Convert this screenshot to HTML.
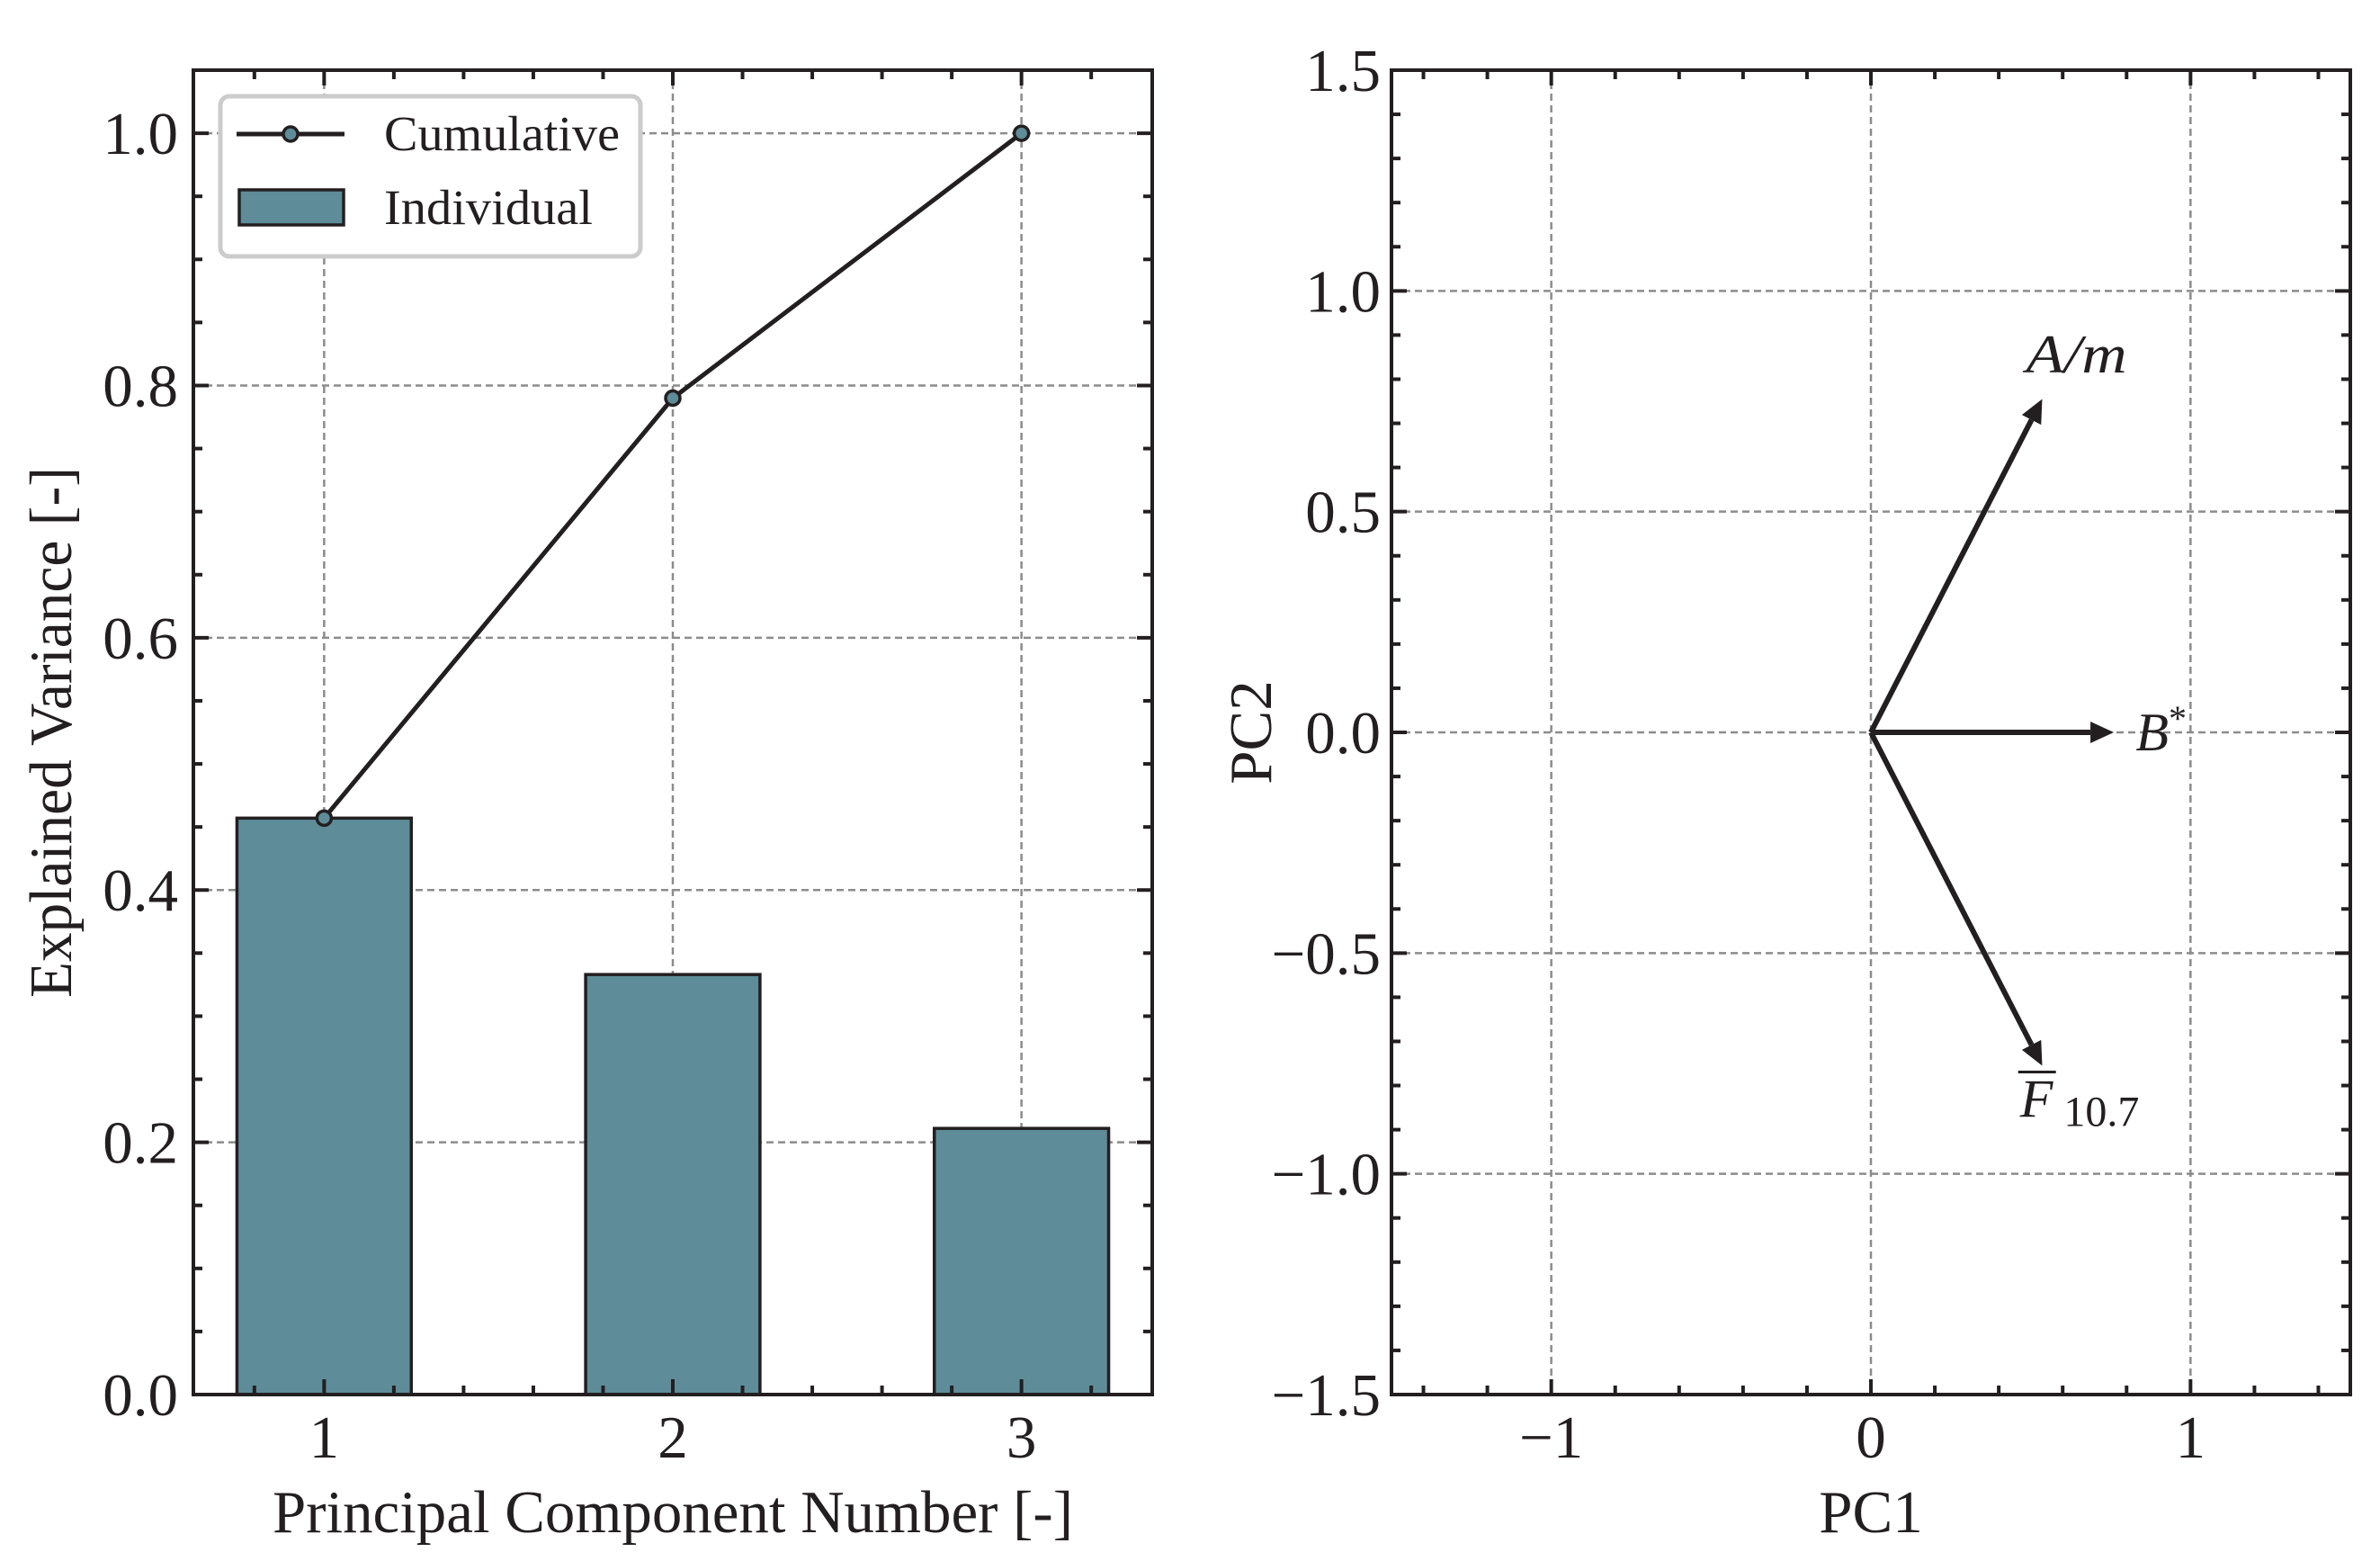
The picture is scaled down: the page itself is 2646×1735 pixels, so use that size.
<!DOCTYPE html>
<html><head><meta charset="utf-8"><style>
html,body{margin:0;padding:0;background:#fff}
svg{display:block}
text{font-family:"Liberation Serif",serif;fill:#231f20}
</style></head><body>
<svg id="fig" width="2646" height="1735" viewBox="0 0 2646 1735" xmlns="http://www.w3.org/2000/svg"></svg>
<script>
const components = [1, 2, 3];
const individualVariance = [0.457, 0.333, 0.211];
const cumulativeVariance = [0.457, 0.790, 1.0];
const leftYTicks = [0.0, 0.2, 0.4, 0.6, 0.8, 1.0];
const leftYTickLabels = ["0.0", "0.2", "0.4", "0.6", "0.8", "1.0"];
const loadingNames = ["A/m", "B*", "F10.7"];
const loadingPC1 = [0.536, 0.76, 0.536];
const loadingPC2 = [0.755, 0.0, -0.755];
const rightXTicks = [-1, 0, 1];
const rightXTickLabels = ["\u22121", "0", "1"];
const rightYTicks = [-1.5, -1.0, -0.5, 0.0, 0.5, 1.0, 1.5];
const rightYTickLabels = ["\u22121.5", "\u22121.0", "\u22120.5", "0.0", "0.5", "1.0", "1.5"];

const NS = "http://www.w3.org/2000/svg";
const svg = document.getElementById('fig');
function el(tag, attrs, parent) {
  const e = document.createElementNS(NS, tag);
  for (const k in attrs) e.setAttribute(k, attrs[k]);
  (parent || svg).appendChild(e);
  return e;
}
const INK = "#231f20", GRID = "#8c8c8c", BAR = "#5e8c99";
const FS = 67;

// ---------- Left axes ----------
const L = {x0: 215, x1: 1281, y0: 78, y1: 1550, xmin: 0.625, xmax: 3.375, ymin: 0, ymax: 1.05};
const lx = v => L.x0 + (v - L.xmin) / (L.xmax - L.xmin) * (L.x1 - L.x0);
const ly = v => L.y1 - (v - L.ymin) / (L.ymax - L.ymin) * (L.y1 - L.y0);
const gL = el('g', {});


components.forEach(c => {
  const g = el('line', {x1: lx(c), x2: lx(c), y1: L.y0, y2: L.y1, stroke: GRID, 'stroke-width': 2.5, 'stroke-dasharray': '8,5'}, gL);
  
  
});
leftYTicks.forEach(t => {
  const g = el('line', {x1: L.x0, x2: L.x1, y1: ly(t), y2: ly(t), stroke: GRID, 'stroke-width': 2.5, 'stroke-dasharray': '8,5'}, gL);
  
  
});
components.forEach((c, i) => {
  const b = el('rect', {x: lx(c - 0.25), y: ly(individualVariance[i]), width: lx(c + 0.25) - lx(c - 0.25), height: ly(0) - ly(individualVariance[i]), fill: BAR, stroke: INK, 'stroke-width': 3.5}, gL);
  
  
});
const pts = components.map((c, i) => lx(c) + ',' + ly(cumulativeVariance[i])).join(' ');
const pl = el('polyline', {points: pts, fill: 'none', stroke: INK, 'stroke-width': 5}, gL);


components.forEach((c, i) => {
  const p = el('circle', {cx: lx(c), cy: ly(cumulativeVariance[i]), r: 8, fill: BAR, stroke: INK, 'stroke-width': 3.5}, gL);
  
  
});
for (let k = 0; k <= 21; k++) {
  const v = k * 0.05, major = k % 4 === 0, len = major ? 17 : 10;
  el('line', {x1: L.x0, x2: L.x0 + len, y1: ly(v), y2: ly(v), stroke: INK, 'stroke-width': 4}, gL);
  el('line', {x1: L.x1, x2: L.x1 - len, y1: ly(v), y2: ly(v), stroke: INK, 'stroke-width': 4}, gL);
}
for (let k = 4; k <= 16; k++) {
  const v = k * 0.2, major = k % 5 === 0, len = major ? 17 : 10;
  el('line', {x1: lx(v), x2: lx(v), y1: L.y1, y2: L.y1 - len, stroke: INK, 'stroke-width': 4}, gL);
  el('line', {x1: lx(v), x2: lx(v), y1: L.y0, y2: L.y0 + len, stroke: INK, 'stroke-width': 4}, gL);
}
el('rect', {x: L.x0, y: L.y0, width: L.x1 - L.x0, height: L.y1 - L.y0, fill: 'none', stroke: INK, 'stroke-width': 4}, gL);
leftYTicks.forEach((t, i) => {
  const tx = el('text', {x: 198, y: ly(t) + 23, 'font-size': FS, 'text-anchor': 'end'}, gL);
  tx.textContent = leftYTickLabels[i];
  
  
});
components.forEach(c => {
  const tx = el('text', {x: lx(c), y: 1620, 'font-size': FS, 'text-anchor': 'middle'}, gL);
  tx.textContent = String(c);
  
  
});
let t1 = el('text', {x: 748, y: 1703, 'font-size': FS, 'text-anchor': 'middle', textLength: 890, lengthAdjust: 'spacingAndGlyphs'}, gL);
t1.textContent = 'Principal Component Number [-]';


let t2 = el('text', {x: 0, y: 0, 'font-size': FS, 'text-anchor': 'middle', textLength: 590, lengthAdjust: 'spacingAndGlyphs', transform: 'translate(79,814) rotate(-90)'}, gL);
t2.textContent = 'Explained Variance [-]';


const lg = el('g', {}, gL);


el('rect', {x: 245, y: 107, width: 467, height: 178, rx: 10, fill: '#fff', stroke: '#cccccc', 'stroke-width': 5}, lg);
el('line', {x1: 263, x2: 383, y1: 149, y2: 149, stroke: INK, 'stroke-width': 5}, lg);
el('circle', {cx: 323, cy: 149, r: 8, fill: BAR, stroke: INK, 'stroke-width': 3.5}, lg);
el('rect', {x: 266, y: 211, width: 116, height: 39, fill: BAR, stroke: INK, 'stroke-width': 3.5}, lg);
let le1 = el('text', {x: 427, y: 167, 'font-size': 55, textLength: 262, lengthAdjust: 'spacingAndGlyphs'}, lg);
le1.textContent = 'Cumulative';


let le2 = el('text', {x: 427, y: 249, 'font-size': 55, textLength: 232, lengthAdjust: 'spacingAndGlyphs'}, lg);
le2.textContent = 'Individual';



// ---------- Right axes ----------
const R = {x0: 1547, x1: 2613, y0: 78, y1: 1550, xmin: -1.5, xmax: 1.5, ymin: -1.5, ymax: 1.5};
const rx = v => R.x0 + (v - R.xmin) / (R.xmax - R.xmin) * (R.x1 - R.x0);
const ry = v => R.y1 - (v - R.ymin) / (R.ymax - R.ymin) * (R.y1 - R.y0);
const gR = el('g', {});


rightXTicks.forEach(t => {
  const g = el('line', {x1: rx(t), x2: rx(t), y1: R.y0, y2: R.y1, stroke: GRID, 'stroke-width': 2.5, 'stroke-dasharray': '8,5'}, gR);
  
  
});
rightYTicks.forEach(t => {
  const g = el('line', {x1: R.x0, x2: R.x1, y1: ry(t), y2: ry(t), stroke: GRID, 'stroke-width': 2.5, 'stroke-dasharray': '8,5'}, gR);
  
  
});
for (let k = -15; k <= 15; k++) {
  const v = k * 0.1, major = k % 5 === 0, len = major ? 17 : 10;
  el('line', {x1: R.x0, x2: R.x0 + len, y1: ry(v), y2: ry(v), stroke: INK, 'stroke-width': 4}, gR);
  el('line', {x1: R.x1, x2: R.x1 - len, y1: ry(v), y2: ry(v), stroke: INK, 'stroke-width': 4}, gR);
}
for (let k = -7; k <= 7; k++) {
  const v = k * 0.2, major = k % 5 === 0, len = major ? 17 : 10;
  el('line', {x1: rx(v), x2: rx(v), y1: R.y1, y2: R.y1 - len, stroke: INK, 'stroke-width': 4}, gR);
  el('line', {x1: rx(v), x2: rx(v), y1: R.y0, y2: R.y0 + len, stroke: INK, 'stroke-width': 4}, gR);
}
el('rect', {x: R.x0, y: R.y0, width: R.x1 - R.x0, height: R.y1 - R.y0, fill: 'none', stroke: INK, 'stroke-width': 4}, gR);
loadingNames.forEach((n, i) => {
  const x0 = rx(0), y0 = ry(0), x1 = rx(loadingPC1[i]), y1 = ry(loadingPC2[i]);
  const dx = x1 - x0, dy = y1 - y0, L2 = Math.hypot(dx, dy), ux = dx / L2, uy = dy / L2;
  const hl = 26, hw = 12;
  const bx = x1 - ux * hl, by = y1 - uy * hl;
  const a = el('g', {}, gR);
  
  
  el('line', {x1: x0, y1: y0, x2: bx, y2: by, stroke: INK, 'stroke-width': 6}, a);
  el('polygon', {points: `${x1},${y1} ${bx - uy * hw},${by + ux * hw} ${bx + uy * hw},${by - ux * hw}`, fill: INK}, a);
});
const la = el('text', {x: rx(loadingPC1[0] * 1.2), y: ry(loadingPC2[0] * 1.08), 'font-size': 60, 'font-style': 'italic', 'text-anchor': 'middle', textLength: 112, lengthAdjust: 'spacingAndGlyphs'}, gR);
la.textContent = 'A/m';


const lb = el('text', {x: rx(loadingPC1[1] * 1.09), y: ry(loadingPC2[1]) + 20, 'font-size': 60, 'font-style': 'italic'}, gR);
lb.innerHTML = 'B<tspan font-style="normal" font-size="40" dy="-22">*</tspan>';


const lfx = rx(loadingPC1[2] * 0.87), lfy = ry(loadingPC2[2] * 1.1) + 20;
const lf = el('text', {x: lfx, y: lfy, 'font-size': 60, 'font-style': 'italic'}, gR);
lf.innerHTML = 'F<tspan font-style="normal" font-size="48" dy="10"> 10.7</tspan>';


el('line', {x1: lfx - 2, x2: lfx + 40, y1: lfy - 50, y2: lfy - 50, stroke: INK, 'stroke-width': 3}, gR);
rightYTicks.forEach((t, i) => {
  const tx = el('text', {x: 1535, y: ry(t) + 23, 'font-size': FS, 'text-anchor': 'end'}, gR);
  tx.textContent = rightYTickLabels[i];
  
  
});
rightXTicks.forEach((t, i) => {
  const tx = el('text', {x: rx(t), y: 1620, 'font-size': FS, 'text-anchor': 'middle'}, gR);
  tx.textContent = rightXTickLabels[i];
  
  
});
let t3 = el('text', {x: 2080, y: 1703, 'font-size': FS, 'text-anchor': 'middle'}, gR);
t3.textContent = 'PC1';


let t4 = el('text', {x: 0, y: 0, 'font-size': FS, 'text-anchor': 'middle', transform: 'translate(1413,814) rotate(-90)'}, gR);
t4.textContent = 'PC2';


</script>
</body></html>
